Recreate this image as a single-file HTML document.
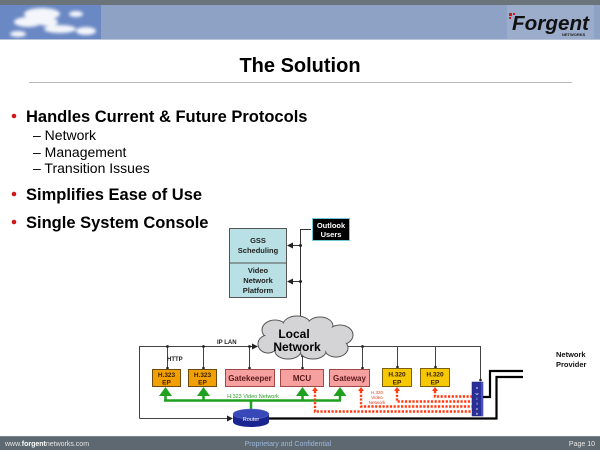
<!DOCTYPE html>
<html><head><meta charset="utf-8"><style>
html,body{margin:0;padding:0;background:#fff;}
svg{display:block;}
text{font-family:"Liberation Sans",Arial,sans-serif;}
</style></head><body>
<svg width="600" height="450" viewBox="0 0 600 450" xmlns="http://www.w3.org/2000/svg">
<defs>
<filter id="blur" x="-20%" y="-50%" width="140%" height="200%"><feGaussianBlur stdDeviation="1.6"/></filter>
<marker id="ar" markerWidth="6" markerHeight="6" refX="5" refY="3" orient="auto" markerUnits="userSpaceOnUse"><path d="M0,0 L6,3 L0,6 z" fill="#222"/></marker>
</defs>
<!-- header -->
<rect x="0" y="0" width="600" height="5" fill="#6b737b"/>
<rect x="0" y="5" width="600" height="34" fill="#8ea2c6"/>
<rect x="0" y="39" width="600" height="1" fill="#b8c4d8"/>
<rect x="0" y="5" width="101" height="34" fill="#6a88c4"/>
<g filter="url(#blur)" fill="#f4f6fb">
<ellipse cx="42" cy="14" rx="18" ry="6"/>
<ellipse cx="28" cy="22" rx="14" ry="5"/>
<ellipse cx="60" cy="29" rx="16" ry="4"/>
<ellipse cx="76" cy="14" rx="7" ry="3"/>
<ellipse cx="86" cy="31" rx="10" ry="4"/>
<ellipse cx="18" cy="34" rx="8" ry="3"/>
<ellipse cx="48" cy="22" rx="10" ry="4"/>
</g>
<rect x="507" y="5" width="87" height="34" fill="#9caccb"/>
<rect x="509" y="13" width="3" height="3" fill="#d01818"/>
<rect x="513" y="13" width="2" height="2" fill="#d01818"/>
<rect x="509" y="17" width="2" height="2" fill="#d01818"/>
<text x="512" y="30" font-size="20" font-weight="bold" font-style="italic" fill="#111" textLength="77" lengthAdjust="spacingAndGlyphs">Forgent</text>
<text x="562" y="36" font-size="4" font-weight="bold" fill="#222">NETWORKS</text>

<!-- title -->
<text x="300" y="72" font-size="20" font-weight="bold" text-anchor="middle" fill="#000">The Solution</text>
<rect x="29" y="82" width="543" height="1" fill="#b8b8c0"/>

<!-- bullets -->
<circle cx="14" cy="116" r="2.3" fill="#d01818"/>
<text x="26" y="122" font-size="16.5" font-weight="bold" fill="#000">Handles Current &amp; Future Protocols</text>
<text x="33" y="140" font-size="14" fill="#000">– Network</text>
<text x="33" y="157" font-size="14" fill="#000">– Management</text>
<text x="33" y="173" font-size="14" fill="#000">– Transition Issues</text>
<circle cx="14" cy="194" r="2.3" fill="#d01818"/>
<text x="26" y="200" font-size="16.5" font-weight="bold" fill="#000">Simplifies Ease of Use</text>
<circle cx="14" cy="222" r="2.3" fill="#d01818"/>
<text x="26" y="228" font-size="16.5" font-weight="bold" fill="#000">Single System Console</text>

<!-- GSS / VNP -->
<rect x="229.5" y="228.5" width="57" height="34.5" fill="#b9e0e4" stroke="#555" stroke-width="1"/>
<rect x="229.5" y="263" width="57" height="34.5" fill="#b9e0e4" stroke="#555" stroke-width="1"/>
<text x="258" y="243" font-size="7.5" font-weight="bold" text-anchor="middle" fill="#222">GSS</text>
<text x="258" y="253" font-size="7.5" font-weight="bold" text-anchor="middle" fill="#222">Scheduling</text>
<text x="258" y="273" font-size="7.5" font-weight="bold" text-anchor="middle" fill="#222">Video</text>
<text x="258" y="283" font-size="7.5" font-weight="bold" text-anchor="middle" fill="#222">Network</text>
<text x="258" y="293" font-size="7.5" font-weight="bold" text-anchor="middle" fill="#222">Platform</text>
<!-- Outlook -->
<rect x="312.5" y="218.5" width="37" height="22" fill="#000" stroke="#6ec8d4" stroke-width="1"/>
<text x="331" y="228" font-size="7.5" font-weight="bold" text-anchor="middle" fill="#fff">Outlook</text>
<text x="331" y="237" font-size="7.5" font-weight="bold" text-anchor="middle" fill="#fff">Users</text>

<g stroke="#333" stroke-width="1" fill="none">
<path d="M300.5,318 V229.5 H311"/>
<path d="M300,245.5 H288" marker-end="url(#ar)"/>
<path d="M300,281.5 H288" marker-end="url(#ar)"/>
</g>
<circle cx="300.5" cy="245.5" r="1.5" fill="#222"/>
<circle cx="300.5" cy="281.5" r="1.5" fill="#222"/>

<!-- LAN lines -->
<g stroke="#444" stroke-width="1" fill="none">
<path d="M139.5,418.5 V346.5 H257" marker-end="url(#ar)"/>
<path d="M139.5,418.5 H232" marker-end="url(#ar)"/>
<path d="M480.5,381 V346.5 H334" marker-end="url(#ar)"/>
<path d="M167.5,346.5 V368"/>
<path d="M203.5,346.5 V368"/>
<path d="M249.5,346.5 V368"/>
<path d="M302.5,356 V368"/>
<path d="M362.5,346.5 V368"/>
<path d="M397.5,346.5 V367"/>
<path d="M435.5,346.5 V367"/>
</g>
<g fill="#222">
<circle cx="167.5" cy="346.5" r="1.4"/><circle cx="203.5" cy="346.5" r="1.4"/>
<circle cx="249.5" cy="346.5" r="1.4"/><circle cx="362.5" cy="346.5" r="1.4"/>
<circle cx="167.5" cy="368" r="1.3"/><circle cx="203.5" cy="368" r="1.3"/>
<circle cx="249.5" cy="368" r="1.3"/><circle cx="302.5" cy="368" r="1.3"/>
<circle cx="362.5" cy="368" r="1.3"/><circle cx="397.5" cy="367" r="1.3"/>
<circle cx="435.5" cy="367" r="1.3"/><circle cx="480.5" cy="380" r="1.3"/>
<circle cx="300.5" cy="318" r="1.4"/><circle cx="302.5" cy="356" r="1.4"/>
</g>
<text x="217" y="344" font-size="6" font-weight="bold" fill="#222">IP LAN</text>
<text x="167" y="361" font-size="6" font-weight="bold" fill="#222">HTTP</text>

<!-- cloud -->
<g fill="#d4d4d6" stroke="#555" stroke-width="1">
<ellipse cx="275" cy="330" rx="13" ry="10"/>
<ellipse cx="297" cy="325" rx="14" ry="9"/>
<ellipse cx="320" cy="326" rx="13" ry="9"/>
<ellipse cx="340" cy="335" rx="13" ry="10"/>
<ellipse cx="336" cy="348" rx="12" ry="9"/>
<ellipse cx="313" cy="351" rx="13" ry="8"/>
<ellipse cx="288" cy="351" rx="13" ry="8"/>
<ellipse cx="268" cy="344" rx="10" ry="9"/>
</g>
<g fill="#d4d4d6">
<ellipse cx="275" cy="330" rx="12" ry="9"/>
<ellipse cx="297" cy="325" rx="13" ry="8"/>
<ellipse cx="320" cy="326" rx="12" ry="8"/>
<ellipse cx="340" cy="335" rx="12" ry="9"/>
<ellipse cx="336" cy="348" rx="11" ry="8"/>
<ellipse cx="313" cy="351" rx="12" ry="7"/>
<ellipse cx="288" cy="351" rx="12" ry="7"/>
<ellipse cx="268" cy="344" rx="9" ry="8"/>
<rect x="270" y="328" width="66" height="22"/>
</g>
<text x="294" y="338" font-size="12" font-weight="bold" text-anchor="middle" fill="#000">Local</text>
<text x="297" y="351" font-size="12" font-weight="bold" text-anchor="middle" fill="#000">Network</text>

<!-- boxes -->
<g stroke="#6b4a10" stroke-width="1">
<rect x="152.5" y="369.5" width="28" height="17" fill="#f2a000"/>
<rect x="188.5" y="369.5" width="28" height="17" fill="#f2a000"/>
</g>
<g stroke="#a04848" stroke-width="1" fill="#f6a0a0">
<rect x="225.5" y="369.5" width="49" height="17"/>
<rect x="280.5" y="369.5" width="43" height="17"/>
<rect x="329.5" y="369.5" width="40" height="17"/>
</g>
<g stroke="#7a6010" stroke-width="1" fill="#f5c800">
<rect x="382.5" y="368.5" width="29" height="18"/>
<rect x="420.5" y="368.5" width="29" height="18"/>
</g>
<g font-size="6.5" font-weight="bold" text-anchor="middle" fill="#3a2000">
<text x="166.5" y="377">H.323</text><text x="166.5" y="384.5">EP</text>
<text x="202.5" y="377">H.323</text><text x="202.5" y="384.5">EP</text>
<text x="397" y="376.5">H.320</text><text x="397" y="384.5">EP</text>
<text x="435" y="376.5">H.320</text><text x="435" y="384.5">EP</text>
</g>
<g font-size="8" font-weight="bold" text-anchor="middle" fill="#5a1a1a">
<text x="250" y="381">Gatekeeper</text>
<text x="302" y="381">MCU</text>
<text x="349.5" y="381">Gateway</text>
</g>

<!-- green network -->
<g fill="none" stroke="#1fa01f" stroke-width="2.5">
<path d="M164,400.5 H341"/>
<path d="M165.5,400.5 V394"/><path d="M203.5,400.5 V394"/>
<path d="M302.5,400.5 V394"/><path d="M340,400.5 V394"/>
<path d="M251,400.5 V412"/>
</g>
<g fill="#1fa01f">
<path d="M165.5,387 L159,396 L172,396 z"/>
<path d="M203.5,387 L197,396 L210,396 z"/>
<path d="M302.5,387 L296,396 L309,396 z"/>
<path d="M340,387 L333.5,396 L346.5,396 z"/>
</g>
<text x="253" y="398" font-size="5.5" text-anchor="middle" fill="#2a9a2a">H.323 Video Network</text>

<!-- router -->
<rect x="233" y="414" width="36" height="8" fill="#1a2590"/>
<ellipse cx="251" cy="422" rx="18" ry="5" fill="#1a2590"/>
<ellipse cx="251" cy="414" rx="18" ry="5" fill="#3848b8" stroke="#6070d0" stroke-width="0.5"/>
<text x="251" y="421" font-size="5.5" text-anchor="middle" fill="#fff">Router</text>

<!-- thick provider lines -->
<g fill="none" stroke="#000" stroke-width="2.2">
<path d="M269,418.5 H496.5 V377 H523"/>
<path d="M483,397 H490 V371 H523"/>
</g>

<!-- red dotted -->
<g fill="none" stroke="#ff3a10" stroke-width="2.4" stroke-dasharray="2.2 1.5">
<path d="M315,391 V411.5 H472"/>
<path d="M361,391 V406.5 H472"/>
<path d="M397,391 V401.5 H472"/>
<path d="M435,391 V396.5 H472"/>
</g>
<g fill="#ff3a10">
<path d="M315,387 L312,391 L318,391 z"/>
<path d="M361,387 L358,391 L364,391 z"/>
<path d="M397,387 L394,391 L400,391 z"/>
<path d="M435,387 L432,391 L438,391 z"/>
</g>
<g font-size="4.5" text-anchor="middle" fill="#e84020">
<text x="377" y="394">H.320</text>
<text x="377" y="399">Video</text>
<text x="377" y="404">Network</text>
</g>

<!-- switch -->
<rect x="472" y="382" width="11" height="34" fill="#2a2f98" stroke="#1a1f70" stroke-width="0.5"/>
<rect x="481" y="382" width="2" height="34" fill="#4a50b8"/>
<g font-size="4" fill="#fff" text-anchor="middle">
<text x="477" y="389">s</text><text x="477" y="395">w</text><text x="477" y="400">i</text>
<text x="477" y="405">t</text><text x="477" y="410">c</text><text x="477" y="415">h</text>
</g>

<text x="556" y="357" font-size="7.5" font-weight="bold" fill="#111">Network</text>
<text x="556" y="367" font-size="7.5" font-weight="bold" fill="#111">Provider</text>

<!-- footer -->
<rect x="0" y="436" width="600" height="14" fill="#5d6870"/>
<rect x="0" y="436" width="600" height="1" fill="#7c8790"/>
<text x="5" y="446" font-size="7" fill="#e6e6e6">www.<tspan font-weight="bold" fill="#fff">forgent</tspan>networks.com</text>
<text x="288" y="446" font-size="7" text-anchor="middle" fill="#9cb8dc">Proprietary and Confidential</text>
<text x="595" y="446" font-size="7" text-anchor="end" fill="#e6e6e6">Page 10</text>
</svg>
</body></html>
